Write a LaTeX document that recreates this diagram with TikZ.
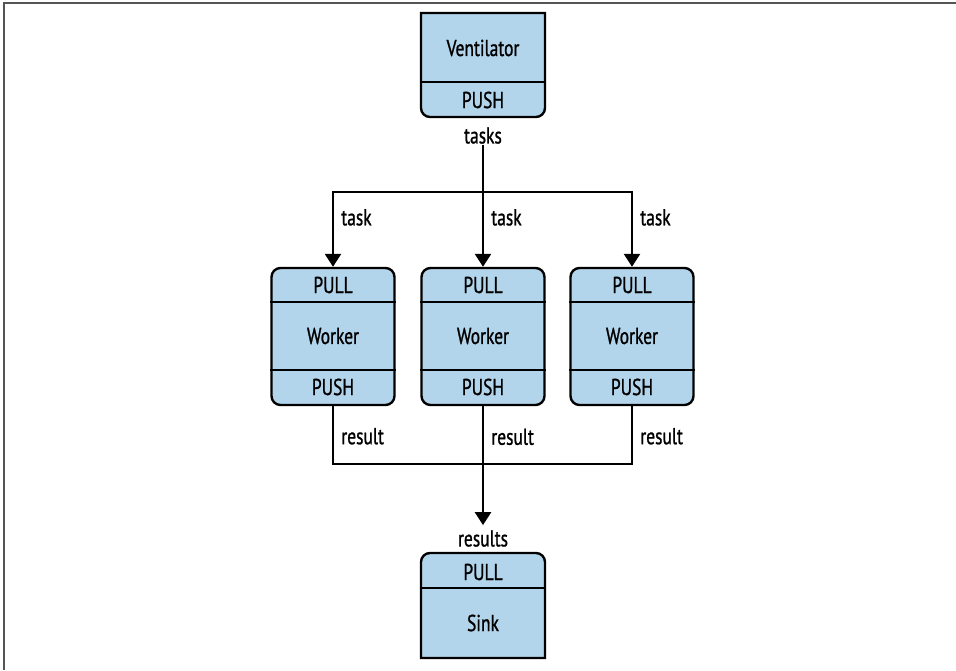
\documentclass[tikz,border=0pt]{standalone}
\usepackage{fontspec}
\setmainfont{PT Sans}[FakeStretch=0.76, FakeBold=1]
\usetikzlibrary{arrows.meta}
\definecolor{box_blue}{HTML}{B3D5EB}
\definecolor{frame_gray}{HTML}{555555}

\begin{document}
\begin{tikzpicture}[x=1pt, y=1pt, every node/.style={font=\fontsize{23}{27}\selectfont, inner sep=0pt}]
\tikzset{
  box/.style={draw, fill=box_blue, line width=2.4pt},
  sep/.style={line width=2.4pt},
  conn/.style={line width=2.6pt},
  arr/.style={conn, -{Triangle[length=13pt, width=16pt]}},
  note/.style={right=7pt},
}

    % Frame
    \useasboundingbox (0,0) rectangle (956,670);
    \draw[frame_gray, line width=2pt] (3.5,0) -- (3.5,666.5) -- (956,666.5);

    % Ventilator
    \filldraw[box] (421,657) -- (545,657) -- (545,562) arc[start angle=0, end angle=-90, radius=9]
        -- (430,553) arc[start angle=270, end angle=180, radius=9] -- cycle;
    \draw[sep] (421,588) -- (545,588);
    \node (vent) at (483,622) {Ventilator};
    \node (ventpush) at (483,570) {PUSH};
    \node[inner sep=1.5pt] (tasks) at (483,534.5) {tasks};

    % Workers
    \node[box, rounded corners=9pt, minimum width=123pt, minimum height=137pt] (w1) at (333,333.5) {};
    \node[box, rounded corners=9pt, minimum width=123pt, minimum height=137pt] (w2) at (483,333.5) {};
    \node[box, rounded corners=9pt, minimum width=123pt, minimum height=137pt] (w3) at (632,333.5) {};
    \foreach \w in {w1, w2, w3} {
        \draw[sep] (\w.west |- 0,368) -- (\w.east |- 0,368);
        \draw[sep] (\w.west |- 0,300) -- (\w.east |- 0,300);
        \node (\w pull) at (\w |- 0,385) {PULL};
        \node (\w name) at (\w |- 0,334) {Worker};
        \node (\w push) at (\w |- 0,283) {PUSH};
    }

    % Sink
    \filldraw[box] (421,12) -- (421,108) arc[start angle=180, end angle=90, radius=9]
        -- (536,117) arc[start angle=90, end angle=0, radius=9] -- (545,12) -- cycle;
    \draw[sep] (421,82) -- (545,82);
    \node (sinkpull) at (483,98) {PULL};
    \node (sink) at (483,47) {Sink};
    \node (results) at (483,131.5) {results};

    % Tasks going out
    \coordinate (split) at (483,478);
    \draw[conn] (tasks) -- (split);
    \draw[arr] (split) -| node[note, pos=0.67] (task1) {task} (w1.north);
    \draw[arr] (split) -- node[note, pos=0.34] (task2) {task} (w2.north);
    \draw[arr] (split) -| node[note, pos=0.67] (task3) {task} (w3.north);

    % Results coming back
    \coordinate (merge) at (483,206);
    \draw[conn] (w1.south) |- node[note, pos=0.26] (res1) {result} (merge);
    \draw[conn] (w2.south) -- node[note, pos=0.53] (res2) {result} (merge);
    \draw[conn] (w3.south) |- node[note, pos=0.26] (res3) {result} (merge);
    \draw[arr, shorten >=5pt] (merge) -- (results);

\end{tikzpicture}
\end{document}
